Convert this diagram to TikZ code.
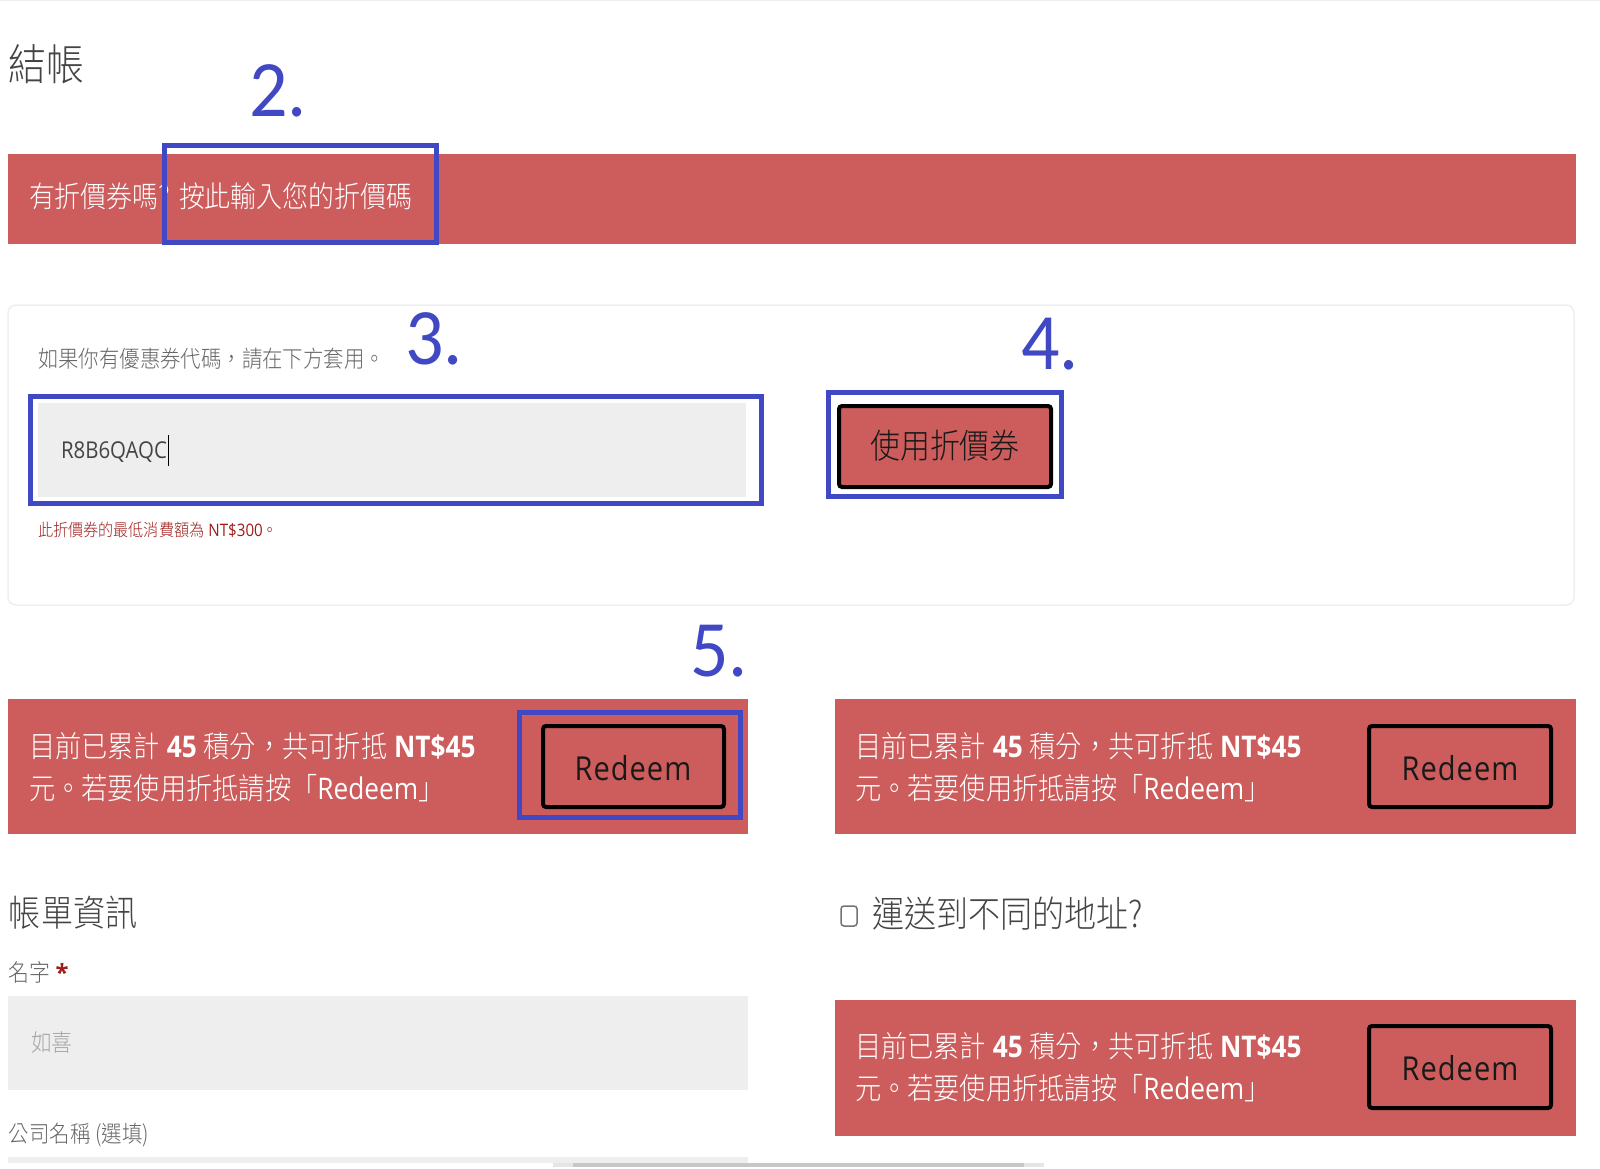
\documentclass[tikz,border=0pt]{standalone}
\usepackage{fontspec}
\setmainfont{Open Sans}[FakeStretch=0.88]
\newfontfamily\cjk{Noto Sans CJK TC Light}[FakeStretch=0.88]
\newfontfamily\numfont{Carlito}[FakeStretch=0.95]
\newfontfamily\btnfont{Open Sans}[FakeStretch=0.88,LetterSpace=3]
\definecolor{barred}{HTML}{CD5C5C}
\definecolor{markblue}{HTML}{4048C4}
\definecolor{fieldgray}{HTML}{EEEEEE}
\definecolor{cardline}{HTML}{EFEFEF}
\definecolor{inkgray}{HTML}{444444}
\definecolor{errred}{HTML}{A01C1C}
\newcommand{\fs}[1]{\fontsize{#1}{#1}\selectfont}
\newcommand{\noticeone}{{\cjk 目前已累計} \textbf{45} {\cjk 積分，共可折抵} \textbf{NT\$45}}
\newcommand{\noticetwo}{{\cjk 元。若要使用折抵請按「}Redeem{\cjk 」}}
\tikzset{
  txt/.style={inner sep=0pt,outer sep=0pt,anchor=west},
  bar/.style={fill=barred,draw=none},
  field/.style={fill=fieldgray,draw=none},
  markbox/.style={draw=markblue,line width=5pt,fill=none},
  btn/.style={fill=barred,draw=black,line width=4pt,rounded corners=3pt},
  num/.style={inner sep=0pt,anchor=base west,text=markblue,font=\numfont\fs{80}},
  btntxt/.style={inner sep=0pt,anchor=center,text=black!90,font=\btnfont\fs{33}},
  notice/.style={txt,text=white,font=\fs{29.8}}
}
\begin{document}
\begin{tikzpicture}[x=1pt,y=-1pt]
\useasboundingbox[fill=white] (0,0) rectangle (1600,1169);
\fill[cardline] (0,0) rectangle (1600,1.5);
% top
\node[txt,text=inkgray,font=\cjk\fs{43}] (title) at (9,64) {結帳};
\node[num] (n2) at (249,117) {2.};
\fill[bar] (8,154) rectangle (1576,244);
\node[txt,text=white,font=\cjk\fs{29.5}] (ask) at (29,196.5) {有折價券嗎?};
\node[txt,text=white,font=\cjk\fs{29.5}] (enter) at (179,196.5) {按此輸入您的折價碼};
\draw[markbox] (164,146) rectangle (436,242);
% coupon card
\draw[cardline,line width=1.5pt,rounded corners=8pt] (8,305) rectangle (1574,605);
\node[txt,text=black!60,font=\cjk\fs{23.2}] (hint) at (38,359) {如果你有優惠券代碼，請在下方套用。};
\node[num] (n3) at (405,364) {3.};
\fill[field] (38,403) rectangle (746,497);
\node[txt,text=inkgray,font=\fs{23.2}] (code) at (61,452) {R8B6QAQC};
\draw[black,line width=1pt] (168.5,435) -- (168.5,466);
\draw[markbox] (30,396) rectangle (761,503);
\node[txt,text=errred,font=\fs{17.2}] (err) at (38,530) {{\cjk 此折價券的最低消費額為} NT\$300{\cjk 。}};
\draw[btn] (839,406) rectangle (1051,487);
\node[btntxt,font=\cjk\fs{34}] (usetxt) at (945,446) {使用折價券};
\draw[markbox] (828,392) rectangle (1061,496);
\node[num] (n4) at (1021,369) {4.};
% notices row 1
\node[num] (n5) at (690,676) {5.};
\fill[bar] (8,699) rectangle (748,834);
\node[notice] (a1) at (29,746) {\noticeone};
\node[notice] (a2) at (29,788) {\noticetwo};
\draw[btn] (543,726) rectangle (724,807);
\node[btntxt] (ar) at (633,768) {Redeem};
\draw[markbox] (519,712) rectangle (740,817);
\fill[bar] (835,699) rectangle (1576,834);
\node[notice] (b1) at (855,746) {\noticeone};
\node[notice] (b2) at (855,788) {\noticetwo};
\draw[btn] (1369,726) rectangle (1551,807);
\node[btntxt] (br) at (1460,768) {Redeem};
% billing
\node[txt,text=inkgray,font=\cjk\fs{36.4}] (bill) at (9,913) {帳單資訊};
\node[txt,text=black!60,font=\cjk\fs{23.8}] (name) at (9,972) {名字 {\fontspec{Open Sans}\bfseries\color{errred}*}};
\fill[field] (8,996) rectangle (748,1090);
\node[txt,text=black!35,font=\cjk\fs{23.8}] (ph) at (31,1042) {如喜};
\node[txt,text=black!60,font=\cjk\fs{23.2}] (comp) at (9,1135) {公司名稱 (選填)};
\fill[field] (8,1157) rectangle (748,1163);
% shipping
\draw[black!55,line width=1.5pt,rounded corners=3pt] (841,906) rectangle (857,926);
\node[txt,text=inkgray,font=\cjk\fs{36.4}] (ship) at (872,914) {運送到不同的地址?};
\fill[bar] (835,1000) rectangle (1576,1136);
\node[notice] (c1) at (855,1046) {\noticeone};
\node[notice] (c2) at (855,1088) {\noticetwo};
\draw[btn] (1369,1026) rectangle (1551,1108);
\node[btntxt] (cr) at (1460,1068) {Redeem};
% scrollbar
\fill[black!10] (553,1163) rectangle (1044,1167);
\fill[black!22] (573,1163) rectangle (1024,1167);
\end{tikzpicture}
\end{document}
